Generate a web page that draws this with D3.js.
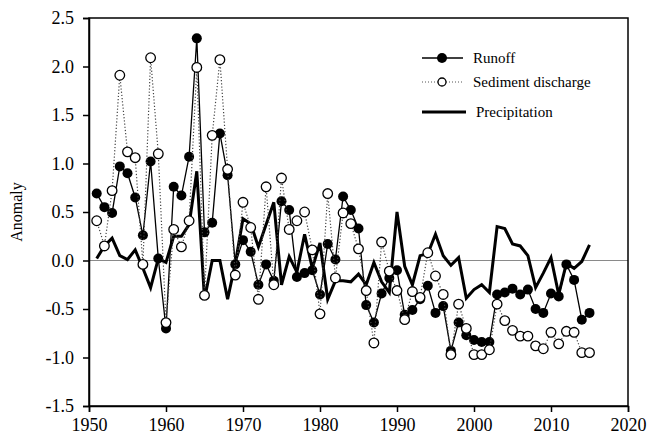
<!DOCTYPE html>
<html>
<head>
<meta charset="utf-8">
<script src="https://cdn.jsdelivr.net/npm/d3@7"></script>
<style>
  html, body { margin: 0; padding: 0; background: #fff; }
  svg { display: block; }
  svg text { font-family: "Liberation Serif", "Times New Roman", "DejaVu Serif", serif !important; fill: #000; }
</style>
</head>
<body>
<svg id="chart" width="658" height="439"></svg>
<script>
const years = d3.range(1951, 2016);
const runoff = [0.69,0.55,0.49,0.97,0.90,0.65,0.26,1.02,0.02,-0.70,
  0.76,0.67,1.07,2.29,0.29,0.39,1.31,0.88,-0.04,0.21,
  0.09,-0.25,-0.04,-0.21,0.61,0.52,-0.17,-0.13,-0.10,-0.35,
  0.17,0.01,0.66,0.52,0.33,-0.46,-0.64,-0.34,-0.18,-0.10,
  -0.56,-0.51,-0.40,-0.26,-0.54,-0.47,-0.93,-0.64,-0.77,-0.82,
  -0.84,-0.84,-0.35,-0.33,-0.29,-0.35,-0.30,-0.50,-0.54,-0.34,
  -0.37,-0.04,-0.20,-0.61,-0.54];
const sediment = [0.41,0.15,0.72,1.91,1.12,1.06,-0.04,2.09,1.10,-0.64,
  0.32,0.14,0.41,1.99,-0.36,1.29,2.07,0.94,-0.15,0.60,
  0.34,-0.40,0.76,-0.25,0.85,0.32,0.41,0.50,0.11,-0.55,
  0.69,-0.18,0.49,0.38,0.12,-0.31,-0.85,0.19,-0.11,-0.31,
  -0.61,-0.32,-0.38,0.08,-0.16,-0.35,-0.97,-0.45,-0.70,-0.97,
  -0.97,-0.92,-0.45,-0.62,-0.72,-0.78,-0.78,-0.88,-0.91,-0.74,
  -0.86,-0.73,-0.74,-0.95,-0.95];
const precipitation = [0.02,0.15,0.23,0.05,0.01,0.11,-0.08,-0.28,0.02,-0.02,
  0.25,0.25,0.37,0.92,-0.40,0.00,0.00,-0.40,-0.03,0.43,
  0.38,0.14,0.37,0.60,-0.25,0.04,-0.12,0.27,-0.08,0.18,
  -0.40,-0.21,-0.21,-0.22,-0.14,-0.25,-0.02,-0.22,-0.33,0.50,
  -0.06,-0.25,0.05,0.07,0.27,0.05,-0.05,0.03,-0.39,-0.30,
  -0.25,-0.33,0.35,0.33,0.17,0.15,0.05,-0.28,-0.13,0.03,
  -0.35,-0.03,-0.08,-0.01,0.16];
const xTicks = [1950,1960,1970,1980,1990,2000,2010,2020];
const yTicks = [-1.5,-1.0,-0.5,0.0,0.5,1.0,1.5,2.0,2.5];
const legendLabels = ["Runoff","Sediment discharge","Precipitation"];
const yLabel = "Anomaly";

const FONT = "'Liberation Serif', 'Times New Roman', 'DejaVu Serif', serif";
const svg = d3.select("#chart");
const L = 89, R = 628, T = 18, B = 406;
const x = d3.scaleLinear().domain([1950, 2020]).range([L, R]);
const y = d3.scaleLinear().domain([-1.5, 2.5]).range([B, T]);

// zero line
svg.append("line").attr("x1", L).attr("x2", R).attr("y1", y(0)).attr("y2", y(0))
  .attr("stroke", "#8a8a8a").attr("stroke-width", 1);

// frame
svg.append("rect").attr("x", L).attr("y", T).attr("width", R - L).attr("height", B - T)
  .attr("fill", "none").attr("stroke", "#000").attr("stroke-width", 1.5);

// axes
const xAxis = svg.append("g").attr("transform", `translate(0,${B})`)
  .call(d3.axisBottom(x).tickValues(xTicks).tickSize(6).tickPadding(6).tickFormat(d3.format("d")));
const yAxis = svg.append("g").attr("transform", `translate(${L},0)`)
  .call(d3.axisLeft(y).tickValues(yTicks).tickSize(6).tickPadding(9).tickFormat(d => d.toFixed(1)));
[xAxis, yAxis].forEach(g => {
  g.attr("font-family", FONT);
  g.select(".domain").attr("stroke", "#000").attr("stroke-width", 1.5);
  g.selectAll(".tick line").attr("stroke", "#000").attr("stroke-width", 1.5);
  g.selectAll(".tick text").attr("font-family", FONT).attr("font-size", 18).attr("fill", "#000");
});

svg.append("text").attr("transform", `translate(22,${(T + B) / 2}) rotate(-90)`)
  .attr("text-anchor", "middle").attr("font-family", FONT).attr("font-size", 16).text(yLabel);

const line = d3.line().x((d, i) => x(years[i])).y(d => y(d));

// precipitation
svg.append("path").datum(precipitation).attr("d", line)
  .attr("fill", "none").attr("stroke", "#000").attr("stroke-width", 3).attr("stroke-linejoin", "miter");

// runoff
svg.append("path").datum(runoff).attr("d", line)
  .attr("fill", "none").attr("stroke", "#000").attr("stroke-width", 1.3);
svg.append("g").selectAll("circle").data(runoff).join("circle")
  .attr("cx", (d, i) => x(years[i])).attr("cy", d => y(d)).attr("r", 5).attr("fill", "#000");

// sediment
svg.append("path").datum(sediment).attr("d", line)
  .attr("fill", "none").attr("stroke", "#444").attr("stroke-width", 1.2).attr("stroke-dasharray", "1.2,2");
svg.append("g").selectAll("circle").data(sediment).join("circle")
  .attr("cx", (d, i) => x(years[i])).attr("cy", d => y(d)).attr("r", 4.8)
  .attr("fill", "#fff").attr("stroke", "#000").attr("stroke-width", 1.3);

// legend
const lg = svg.append("g");
const ly = [58, 82, 112];
lg.append("line").attr("x1", 422).attr("x2", 463).attr("y1", ly[0]).attr("y2", ly[0]).attr("stroke", "#000").attr("stroke-width", 1.5);
lg.append("circle").attr("cx", 442).attr("cy", ly[0]).attr("r", 5).attr("fill", "#000");
lg.append("line").attr("x1", 422).attr("x2", 463).attr("y1", ly[1]).attr("y2", ly[1]).attr("stroke", "#555").attr("stroke-width", 1).attr("stroke-dasharray", "1,2");
lg.append("circle").attr("cx", 442).attr("cy", ly[1]).attr("r", 4).attr("fill", "#fff").attr("stroke", "#000").attr("stroke-width", 1.3);
lg.append("line").attr("x1", 422).attr("x2", 466).attr("y1", ly[2]).attr("y2", ly[2]).attr("stroke", "#000").attr("stroke-width", 3);
legendLabels.forEach((t, i) => {
  lg.append("text").attr("x", i === 2 ? 476 : 473).attr("y", ly[i]).attr("dy", "0.33em")
    .attr("font-family", FONT).attr("font-size", 15).text(t);
});
</script>
</body>
</html>
